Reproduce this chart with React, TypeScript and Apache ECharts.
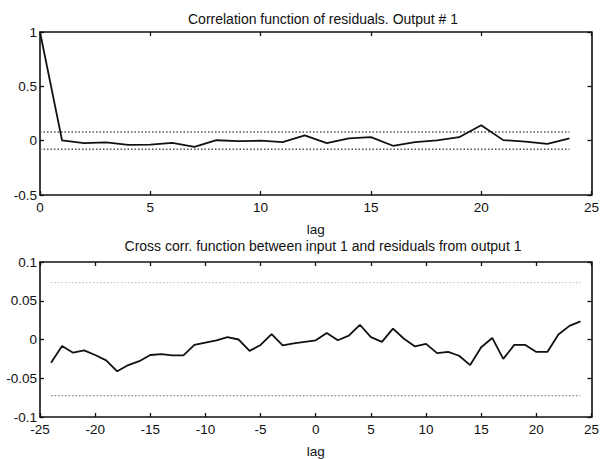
import React, { useEffect, useRef } from "react";
import * as echarts from "echarts";

// Autocorrelation of residuals (output #1)
const acfLags = [0, 1, 2, 3, 4, 5, 6, 7, 8, 9, 10, 11, 12, 13, 14, 15, 16, 17, 18, 19, 20, 21, 22, 23, 24];
const acfValues = [1.0, 0.003, -0.022, -0.015, -0.038, -0.036, -0.02, -0.058, 0.004, -0.005, 0.0, -0.014, 0.048, -0.022, 0.022, 0.033, -0.047, -0.013, 0.002, 0.032, 0.142, 0.005, -0.008, -0.03, 0.022];
const acfBoundLags = [0, 24];
const acfUpper = [0.08, 0.08];
const acfLower = [-0.08, -0.08];

// Cross correlation between input 1 and residuals from output 1
const ccfLags = [-24, -23, -22, -21, -20, -19, -18, -17, -16, -15, -14, -13, -12, -11, -10, -9, -8, -7, -6, -5, -4, -3, -2, -1, 0, 1, 2, 3, 4, 5, 6, 7, 8, 9, 10, 11, 12, 13, 14, 15, 16, 17, 18, 19, 20, 21, 22, 23, 24];
const ccfValues = [-0.03, -0.0085, -0.017, -0.014, -0.02, -0.027, -0.041, -0.033, -0.028, -0.02, -0.019, -0.0205, -0.0205, -0.007, -0.004, -0.001, 0.003, 0.0, -0.0147, -0.007, 0.007, -0.0077, -0.005, -0.003, -0.001, 0.0085, -0.001, 0.005, 0.019, 0.003, -0.003, 0.014, 0.001, -0.009, -0.0056, -0.0176, -0.016, -0.021, -0.033, -0.01, 0.002, -0.025, -0.007, -0.007, -0.016, -0.016, 0.0064, 0.0176, 0.0234];
const ccfBoundLags = [-24, 24];
const ccfUpper = [0.0735, 0.0735];
const ccfLower = [-0.0725, -0.0725];

const titles = [
  "Correlation function of residuals. Output # 1",
  "Cross corr. function between input 1 and residuals from output 1",
];
const xName = "lag";

const FONT = "'Liberation Sans', Arial, Helvetica, sans-serif";
const INK = "#111111";

export default function App() {
  const ref = useRef<HTMLDivElement | null>(null);

  useEffect(() => {
    if (!ref.current) return;
    const chart = echarts.init(ref.current, undefined, { renderer: "svg" });

    const frameLine = { show: true, onZero: false, lineStyle: { color: INK, width: 1.6 } };
    const tickIn = { show: true, inside: true, length: 4, lineStyle: { color: INK, width: 1.3 } };
    const label = { color: INK, fontSize: 13.5, fontFamily: FONT };

    const mkX = (grid: number, min: number, max: number, bottom: boolean) => ({
      type: "value" as const,
      gridIndex: grid,
      position: bottom ? "bottom" : "top",
      min,
      max,
      interval: 5,
      axisLine: frameLine,
      axisTick: tickIn,
      axisLabel: bottom ? { ...label, margin: 5, showMaxLabel: true, showMinLabel: true } : { show: false },
      splitLine: { show: false },
      name: bottom ? xName : "",
      nameLocation: "middle" as const,
      nameGap: 27,
      nameTextStyle: { ...label },
    });
    const mkY = (grid: number, min: number, max: number, interval: number, left: boolean) => ({
      type: "value" as const,
      gridIndex: grid,
      position: left ? "left" : "right",
      min,
      max,
      interval,
      axisLine: frameLine,
      axisTick: tickIn,
      axisLabel: left ? { ...label, margin: 3 } : { show: false },
      splitLine: { show: false },
    });

    const toPairs = (xs: number[], ys: number[]) => xs.map((x, i) => [x, ys[i]]);

    chart.setOption({
      animation: false,
      backgroundColor: "#ffffff",
      title: [
        {
          text: titles[0],
          left: 318,
          top: 7,
          textAlign: "center",
          textStyle: { color: INK, fontSize: 14, fontWeight: "normal", fontFamily: FONT },
        },
        {
          text: titles[1],
          left: 318,
          top: 234,
          textAlign: "center",
          textStyle: { color: INK, fontSize: 14, fontWeight: "normal", fontFamily: FONT },
        },
      ],
      grid: [
        { left: 40, right: 5, top: 32, height: 163 },
        { left: 40, right: 5, top: 262, height: 161 },
      ],
      xAxis: [
        mkX(0, 0, 25, true),
        mkX(0, 0, 25, false),
        mkX(1, -25, 25, true),
        mkX(1, -25, 25, false),
      ],
      yAxis: [
        mkY(0, -0.5, 1, 0.5, true),
        mkY(0, -0.5, 1, 0.5, false),
        mkY(1, -0.1, 0.1, 0.05, true),
        mkY(1, -0.1, 0.1, 0.05, false),
      ],
      series: [
        {
          type: "line",
          xAxisIndex: 0,
          yAxisIndex: 0,
          data: toPairs(acfBoundLags, acfUpper),
          showSymbol: false,
          lineStyle: { color: "#555", width: 1.5, type: [1.5, 2] },
        },
        {
          type: "line",
          xAxisIndex: 0,
          yAxisIndex: 0,
          data: toPairs(acfBoundLags, acfLower),
          showSymbol: false,
          lineStyle: { color: "#555", width: 1.5, type: [1.5, 2] },
        },
        {
          type: "line",
          xAxisIndex: 0,
          yAxisIndex: 0,
          data: toPairs(acfLags, acfValues),
          showSymbol: false,
          lineStyle: { color: INK, width: 1.8 },
        },
        {
          type: "line",
          xAxisIndex: 2,
          yAxisIndex: 2,
          data: toPairs(ccfBoundLags, ccfUpper),
          showSymbol: false,
          lineStyle: { color: "#c4c4c4", width: 1.3, type: [1.5, 2] },
        },
        {
          type: "line",
          xAxisIndex: 2,
          yAxisIndex: 2,
          data: toPairs(ccfBoundLags, ccfLower),
          showSymbol: false,
          lineStyle: { color: "#8a8a8a", width: 1.3, type: [1.5, 2] },
        },
        {
          type: "line",
          xAxisIndex: 2,
          yAxisIndex: 2,
          data: toPairs(ccfLags, ccfValues),
          showSymbol: false,
          lineStyle: { color: INK, width: 1.8 },
        },
      ],
    });

    return () => {
      chart.dispose();
    };
  }, []);

  return (
    <div
      ref={ref}
      style={{ position: "fixed", left: 0, top: 0, width: 602, height: 459, background: "#fff" }}
    />
  );
}
